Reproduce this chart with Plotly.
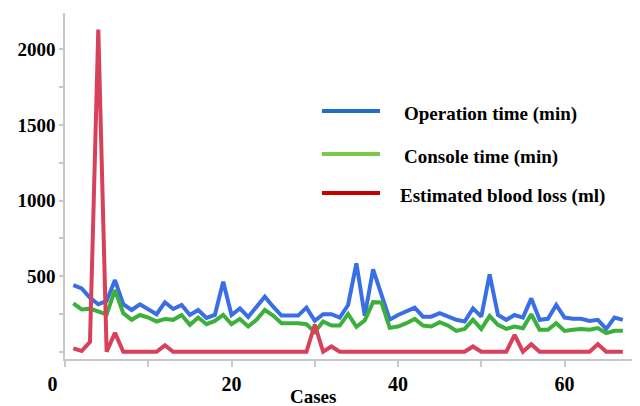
import plotly.graph_objects as go

cases = list(range(1, 68))
operation_time = [441, 419, 357, 314, 336, 474, 314, 276, 314, 283,
                  248, 327, 283, 309, 243, 276, 224, 243, 463, 243,
                  287, 230, 298, 364, 298, 239, 239, 239, 292, 204,
                  248, 248, 226, 309, 585, 238, 545, 380, 212, 243,
                  270, 292, 232, 232, 255, 232, 211, 200, 287, 232,
                  512, 243, 211, 243, 226, 353, 211, 218, 309, 226,
                  218, 218, 204, 211, 151, 226, 211]
console_time = [320, 280, 285, 268, 247, 408, 255, 211, 243, 226,
                200, 217, 211, 243, 178, 226, 182, 204, 243, 182,
                217, 167, 211, 276, 239, 189, 189, 189, 182, 130,
                200, 173, 173, 250, 165, 207, 328, 326, 158, 167,
                189, 217, 173, 167, 195, 173, 138, 151, 211, 151,
                236, 178, 151, 167, 156, 248, 145, 145, 189, 138,
                145, 151, 145, 156, 123, 138, 138]
blood_loss = [22, 5, 65, 2130, 0, 125, 0, 0, 0, 0,
              0, 42, 0, 0, 0, 0, 0, 0, 0, 0,
              0, 0, 0, 0, 0, 0, 0, 0, 0, 180,
              0, 35, 0, 0, 0, 0, 0, 0, 0, 0,
              0, 0, 0, 0, 0, 0, 0, 0, 35, 0,
              0, 0, 0, 112, 0, 50, 0, 0, 0, 0,
              0, 0, 0, 50, 0, 0, 0]

series_names = ["Operation time (min)", "Console time (min)", "Estimated blood loss (ml)"]
line_colors = ["#3a6ee4", "#3cb03c", "#d7415a"]
legend_colors = ["#1f6fca", "#7cc94a", "#c80000"]

x_tick_vals = [0, 10, 20, 30, 40, 50, 60]
x_tick_text = ["0\u00a0\u00a0\u00a0\u00a0\u00a0", "", "20", "", "40", "", "60"]
y_tick_vals = [0, 250, 500, 750, 1000, 1250, 1500, 1750, 2000]
y_tick_text = ["", "", "500", "", "1000", "", "1500", "", "2000"]
x_title = "Cases"

# page body has an 8px default margin; size the figure to compensate
OFF = 8
W, H = 640 - OFF, 406 - OFF
ML, MR, MT, MB = 57, 0, 5, 47
PW, PH = W - ML - MR, H - MT - MB


def px(sx):
    return (sx - OFF - ML) / PW


def py(sy):
    return (H - MB - (sy - OFF)) / PH


FONT = "Liberation Serif"

fig = go.Figure()
for vals, name, col in zip([operation_time, console_time, blood_loss], series_names, line_colors):
    fig.add_trace(go.Scatter(x=cases, y=vals, mode="lines", name=name,
                             line=dict(color=col, width=4), showlegend=False))

# manual legend
leg_y = [111, 154, 193]
leg_tx = [402, 402, 398]
for name, col, ly, tx in zip(series_names, legend_colors, leg_y, leg_tx):
    fig.add_shape(type="line", xref="paper", yref="paper",
                  x0=px(322), x1=px(380), y0=py(ly), y1=py(ly),
                  line=dict(color=col, width=4))
    fig.add_annotation(xref="paper", yref="paper", x=px(tx), y=py(ly + 3),
                       text=name, showarrow=False, xanchor="left", yanchor="middle",
                       font=dict(family=FONT, size=19, color="black", weight="bold"))

fig.add_annotation(xref="paper", yref="paper", x=px(313), y=py(396),
                   text=x_title, showarrow=False, xanchor="center", yanchor="middle",
                   font=dict(family=FONT, size=19, color="black", weight="bold"))

fig.update_layout(
    width=W, height=H,
    margin=dict(l=ML, r=MR, t=MT, b=MB),
    paper_bgcolor="white", plot_bgcolor="white",
    showlegend=False,
    xaxis=dict(range=[0, 69.06], showline=True, linecolor="#c8c8c8", linewidth=1.5,
               ticks="outside", ticklen=6, tickcolor="#c8c8c8", tickwidth=1.5,
               tickvals=x_tick_vals, ticktext=x_tick_text,
               showgrid=False, zeroline=False,
               tickfont=dict(family=FONT, size=20, color="black", weight="bold")),
    yaxis=dict(range=[-48, 2240], showline=True, linecolor="#c8c8c8", linewidth=1.5,
               ticks="outside", ticklen=4, tickcolor="#c8c8c8", tickwidth=1.5,
               tickvals=y_tick_vals, ticktext=y_tick_text,
               showgrid=False, zeroline=False,
               tickfont=dict(family=FONT, size=19, color="black", weight="bold")),
)

fig.write_html("out.html")
